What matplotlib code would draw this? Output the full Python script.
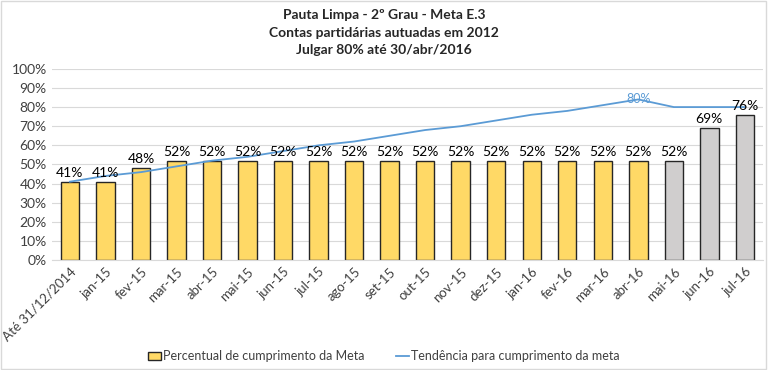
import numpy as np
import matplotlib.pyplot as plt
from matplotlib.patches import Rectangle

plt.rcParams['font.family'] = ['Lato', 'DejaVu Sans']

# categories and values
months = ['Até 31/12/2014', 'jan-15', 'fev-15', 'mar-15', 'abr-15', 'mai-15', 'jun-15',
          'jul-15', 'ago-15', 'set-15', 'out-15', 'nov-15', 'dez-15', 'jan-16',
          'fev-16', 'mar-16', 'abr-16', 'mai-16', 'jun-16', 'jul-16']
percentual = [41, 41, 48, 52, 52, 52, 52, 52, 52, 52, 52, 52, 52, 52, 52, 52, 52, 52, 69, 76]
tendencia = [41, 44, 46, 49, 52, 54, 57, 60, 62, 65, 68, 70, 73, 76, 78, 81, 84, 80, 80, 80]
n_real = 17  # bars up to abr-16 are yellow, the rest gray

yellow = '#FFD966'
gray = '#D0CECE'
blue = '#5B9BD5'

fig = plt.figure(figsize=(7.68, 3.7), dpi=100)
ax = fig.add_axes([0.068, 0.297, 0.925, 0.517])

x = np.arange(len(months))
colors = [yellow if i < n_real else gray for i in x]
bars = ax.bar(x, percentual, width=0.52, color=colors, edgecolor='#262626', linewidth=1.0,
              zorder=2, label='Percentual de cumprimento da Meta')
line, = ax.plot(x, tendencia, color=blue, linewidth=1.3, zorder=3,
                label='Tendência para cumprimento da meta')

# bar labels
for xi, v in zip(x, percentual):
    ax.text(xi, v + 1.5, '%d%%' % v, ha='center', va='bottom', fontsize=10, color='#000000', zorder=4)

# label on the trend line
ax.text(16, 84, '80%', ha='center', va='center', fontsize=9, color=blue, zorder=4)

ax.set_ylim(0, 100)
ax.set_xlim(-0.5, len(months) - 0.5)
ax.set_yticks(np.arange(0, 101, 10))
ax.set_yticklabels(['%d%%' % t for t in range(0, 101, 10)], fontsize=10)
ax.set_xticks(x)
ax.set_xticklabels(months, rotation=45, ha='right', rotation_mode='anchor', fontsize=9.5)
ax.tick_params(axis='both', length=0, pad=4, colors='#404040')
ax.grid(axis='y', color='#D9D9D9', linewidth=0.8, zorder=0)
for s in ['top', 'right', 'left']:
    ax.spines[s].set_visible(False)
ax.spines['bottom'].set_color('#D9D9D9')

fig.text(0.5, 0.975, 'Pauta Limpa - 2º Grau - Meta E.3\nContas partidárias autuadas em 2012\nJulgar 80% até 30/abr/2016',
         ha='center', va='top', fontsize=10, fontweight='bold', color='#262626', linespacing=1.55)

fig.legend(handles=[bars, line], loc='lower center', bbox_to_anchor=(0.5, -0.01), ncol=2,
           frameon=False, fontsize=9, handlelength=1.0, handleheight=0.7, columnspacing=2.5,
           handletextpad=0.2, labelcolor='#404040')

# outer border
fig.patches.append(Rectangle((0.001, 0.002), 0.997, 0.995, transform=fig.transFigure,
                             fill=False, edgecolor='#D9D9D9', linewidth=1.0))

fig.savefig('out.png', dpi=100)
